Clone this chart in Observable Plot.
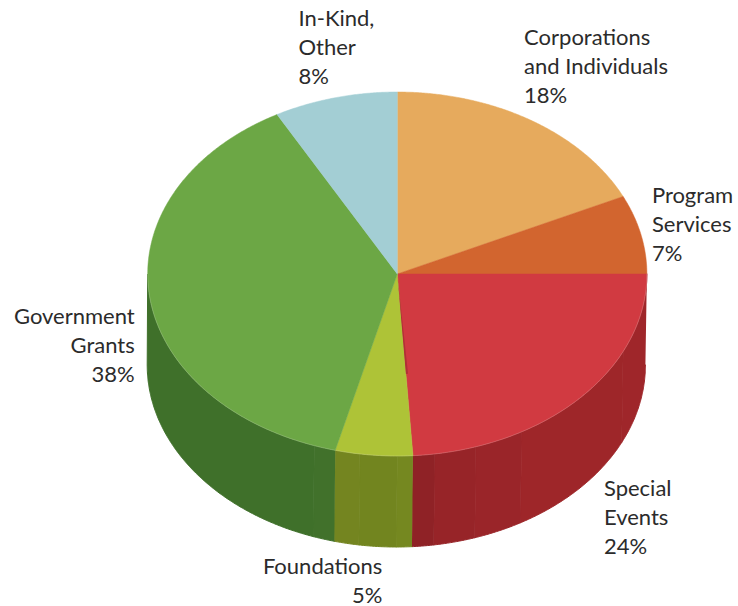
<!DOCTYPE html>
<html>
<head>
<meta charset="utf-8">
<script src="https://cdn.jsdelivr.net/npm/d3@7"></script>
<script src="https://cdn.jsdelivr.net/npm/@observablehq/plot@0.6"></script>
<style>
  html, body { margin: 0; padding: 0; background: #fff; }
  svg { display: block; }
</style>
</head>
<body>
<div id="chart"></div>
<script>
// Revenue sources, clockwise from twelve o'clock.
const categories = ["Corporations\nand Individuals", "Program\nServices", "Special\nEvents", "Foundations", "Government\nGrants", "In-Kind,\nOther"];
const shares = [18, 7, 24, 5, 38, 8];
const topColors = ["#e6aa5d", "#d2652f", "#d13a41", "#aec337", "#6ca745", "#a3ced4"];

// Shaded facets on the visible outer wall: [from %, to %, colour], measured around the pie.
const wallFacets = [
  [25, 32, "#9f262a"],
  [32, 41.7, "#9e2629"],
  [41.7, 44.9, "#9a2529"],
  [44.9, 47.6, "#972428"],
  [47.6, 49, "#8f2226"],
  [49, 50, "#758820"],
  [50, 52.4, "#72851f"],
  [52.4, 54, "#748520"],
  [54, 55.4, "#41712b"],
  [55.4, 75, "#3f702a"]
];

// Label layout in pie units (1 = radius): [x, y, text-anchor].
const labelLayout = [
  [0.508, 1.371, "start"],
  [1.02, 0.503, "start"],
  [0.828, -1.107, "start"],
  [-0.06, -1.535, "end"],
  [-1.052, -0.161, "end"],
  [-0.396, 1.475, "start"]
];

const wallDepth = 0.5;
const turn = (pct) => (pct / 100) * 2 * Math.PI;
const rimPoint = (pct) => ({x: Math.sin(turn(pct)), y: Math.cos(turn(pct))});
const arc = (from, to) => d3.range(from, to, 0.1).concat(to).map(rimPoint);
const inward = (p, k) => ({x: p.x * k, y: p.y * k});

// Cumulative start and end of every slice.
let running = 0;
const slices = categories.map((name, i) => {
  const from = running;
  running += shares[i];
  return {name, share: shares[i], color: topColors[i], from, to: running};
});

// The lower wall edge sits very slightly narrower and to the left of the top rim.
const lowerRim = (p) => ({x: p.x * 0.998 - 0.004, y: p.y - wallDepth});

const wallMarks = wallFacets.map(([from, to, color]) => {
  const upper = arc(from, to);
  const outline = upper.concat(upper.map(lowerRim).reverse());
  return Plot.line(outline, {x: "x", y: "y", fill: color, stroke: color, strokeWidth: 1});
});

const topMarks = slices.map((s) => {
  const outline = [{x: 0, y: 0}, ...arc(s.from, s.to), {x: 0, y: 0}];
  return Plot.line(outline, {x: "x", y: "y", fill: s.color, stroke: s.color, strokeWidth: 0.5});
});

// Narrow darker sliver on the left edge of the Special Events slice, tapering from the centre.
const special = slices[2];
const sliver = [
  {x: 0, y: 0},
  inward(rimPoint(special.to), 0.55),
  inward(rimPoint(special.to - 0.25), 0.55),
  {x: 0, y: 0}
];

const labels = slices.map((s, i) => ({
  text: `${s.name}\n${s.share}%`,
  x: labelLayout[i][0],
  y: labelLayout[i][1],
  anchor: labelLayout[i][2]
}));

const labelMark = (anchor) => Plot.text(labels.filter((d) => d.anchor === anchor), {
  x: "x",
  y: "y",
  text: "text",
  textAnchor: anchor,
  lineAnchor: "top",
  lineHeight: 1.32,
  fontSize: 22,
  fill: "#2b2b2b"
});

const chart = Plot.plot({
  width: 738,
  height: 606,
  margin: 0,
  // Pie centre and radii are set through the scale domains.
  x: {domain: [-396.8 / 249.6, (738 - 396.8) / 249.6], range: [0, 738], axis: null},
  y: {domain: [(273.5 - 606) / 182, 273.5 / 182], range: [606, 0], axis: null},
  style: {fontFamily: "Lato, 'Open Sans', sans-serif", background: "#fff"},
  marks: [
    ...wallMarks,
    ...topMarks,
    Plot.line(sliver, {x: "x", y: "y", fill: "#b03036", strokeWidth: 0}),
    // Pale highlight along the front of the rim.
    Plot.line(arc(25, 75), {x: "x", y: "y", stroke: "#fff", strokeOpacity: 0.18, strokeWidth: 1}),
    labelMark("start"),
    labelMark("end")
  ]
});
document.getElementById("chart").append(chart);
</script>
</body>
</html>
